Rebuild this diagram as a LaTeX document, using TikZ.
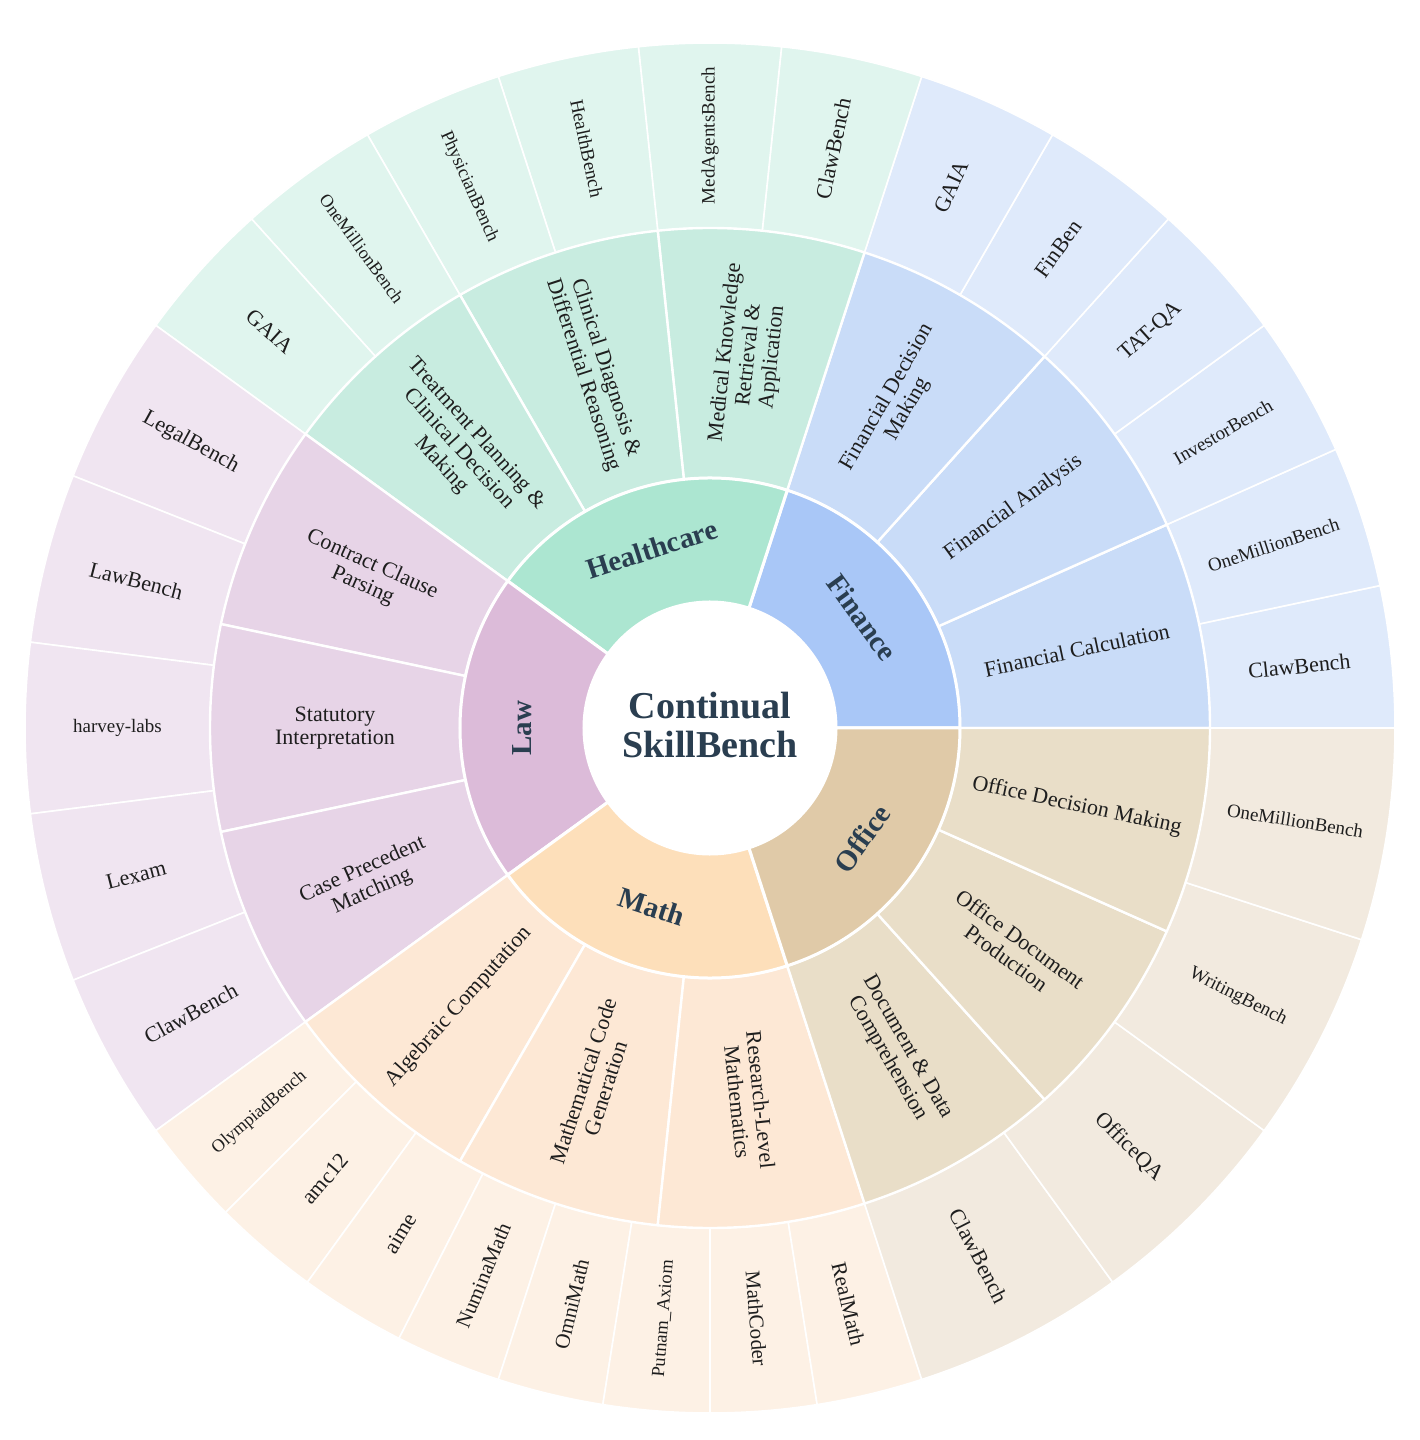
\documentclass[tikz,border=0pt]{standalone}
\usepackage{fontspec}
\setmainfont{Liberation Serif}
\definecolor{slate}{HTML}{2A3E50}
\definecolor{txt}{HTML}{1E1E1E}
% ring 1
\definecolor{fA}{HTML}{A9C7F7}
\definecolor{hA}{HTML}{ACE6D1}
\definecolor{lA}{HTML}{DCBBD9}
\definecolor{mA}{HTML}{FDDFBA}
\definecolor{oA}{HTML}{E0CAA8}
% ring 2
\definecolor{fB}{HTML}{C9DCF8}
\definecolor{hB}{HTML}{C8ECE0}
\definecolor{lB}{HTML}{E7D4E7}
\definecolor{mB}{HTML}{FDE8D5}
\definecolor{oB}{HTML}{E9DEC8}
% ring 3
\definecolor{fC}{HTML}{DFEAFB}
\definecolor{hC}{HTML}{E0F5EE}
\definecolor{lC}{HTML}{F0E5F1}
\definecolor{mC}{HTML}{FDF1E5}
\definecolor{oC}{HTML}{F2EADF}
\newcommand{\mysector}[6]{%
  \filldraw[fill=#1,draw=white,line width=#6pt,line join=round]
    (#2:#4pt) arc[start angle=#2,end angle=#3,radius=#4pt]
    -- (#3:#5pt) arc[start angle=#3,end angle=#2,radius=#5pt] -- cycle;}
\tikzset{
  leaflbl/.style={font=\fontsize{#1}{#1}\selectfont, text=txt, inner sep=0pt},
  leaflbl/.default=22,
  lvltwo/.style={font=\fontsize{22}{23.5}\selectfont, text=txt, align=center, inner sep=0pt},
  lvlone/.style={font=\bfseries\fontsize{29}{30}\selectfont, text=slate, inner sep=0pt},
}
\begin{document}
\begin{tikzpicture}[x=1pt,y=1pt]
\fill[white] (-710,-712) rectangle (710,728);
\useasboundingbox (-710,-712) rectangle (710,728);

% ---------- ring 3 (leaves) ----------
\mysector{fC}{0}{12}{500}{685}{1.6}
\mysector{fC}{12}{24}{500}{685}{1.6}
\mysector{fC}{24}{36}{500}{685}{1.6}
\mysector{fC}{36}{48}{500}{685}{1.6}
\mysector{fC}{48}{60}{500}{685}{1.6}
\mysector{fC}{60}{72}{500}{685}{1.6}
\mysector{hC}{72}{84}{500}{685}{1.6}
\mysector{hC}{84}{96}{500}{685}{1.6}
\mysector{hC}{96}{108}{500}{685}{1.6}
\mysector{hC}{108}{120}{500}{685}{1.6}
\mysector{hC}{120}{132}{500}{685}{1.6}
\mysector{hC}{132}{144}{500}{685}{1.6}
\mysector{lC}{144}{158.4}{500}{685}{1.6}
\mysector{lC}{158.4}{172.8}{500}{685}{1.6}
\mysector{lC}{172.8}{187.2}{500}{685}{1.6}
\mysector{lC}{187.2}{201.6}{500}{685}{1.6}
\mysector{lC}{201.6}{216}{500}{685}{1.6}
\mysector{mC}{216}{225}{500}{685}{1.6}
\mysector{mC}{225}{234}{500}{685}{1.6}
\mysector{mC}{234}{243}{500}{685}{1.6}
\mysector{mC}{243}{252}{500}{685}{1.6}
\mysector{mC}{252}{261}{500}{685}{1.6}
\mysector{mC}{261}{270}{500}{685}{1.6}
\mysector{mC}{270}{279}{500}{685}{1.6}
\mysector{mC}{279}{288}{500}{685}{1.6}
\mysector{oC}{288}{306}{500}{685}{1.6}
\mysector{oC}{306}{324}{500}{685}{1.6}
\mysector{oC}{324}{342}{500}{685}{1.6}
\mysector{oC}{342}{360}{500}{685}{1.6}

% ---------- ring 2 ----------
\mysector{fB}{0}{24}{250}{500}{2.4}
\mysector{fB}{24}{48}{250}{500}{2.4}
\mysector{fB}{48}{72}{250}{500}{2.4}
\mysector{hB}{72}{96}{250}{500}{2.4}
\mysector{hB}{96}{120}{250}{500}{2.4}
\mysector{hB}{120}{144}{250}{500}{2.4}
\mysector{lB}{144}{168}{250}{500}{2.4}
\mysector{lB}{168}{192}{250}{500}{2.4}
\mysector{lB}{192}{216}{250}{500}{2.4}
\mysector{mB}{216}{240}{250}{500}{2.4}
\mysector{mB}{240}{264}{250}{500}{2.4}
\mysector{mB}{264}{288}{250}{500}{2.4}
\mysector{oB}{288}{312}{250}{500}{2.4}
\mysector{oB}{312}{336}{250}{500}{2.4}
\mysector{oB}{336}{360}{250}{500}{2.4}

% ---------- ring 1 ----------
\mysector{fA}{0}{72}{126}{250}{3}
\mysector{hA}{72}{144}{126}{250}{3}
\mysector{lA}{144}{216}{126}{250}{3}
\mysector{mA}{216}{288}{126}{250}{3}
\mysector{oA}{288}{360}{126}{250}{3}

% ---------- centre ----------
\node[font=\bfseries\fontsize{38}{39}\selectfont, text=slate, align=center, inner sep=0pt] (root) at (0,3) {Continual\\SkillBench};

% ---------- ring 1 labels ----------
\node[lvlone, rotate=-54] (c-fin) at (36:188pt) {Finance};
\node[lvlone, rotate=18]  (c-hea) at (108:188pt) {Healthcare};
\node[lvlone, rotate=90]  (c-law) at (180:188pt) {Law};
\node[lvlone, rotate=-18] (c-mat) at (252:188pt) {Math};
\node[lvlone, rotate=54]  (c-off) at (324:188pt) {Office};

% ---------- ring 2 labels ----------
\node[lvltwo, rotate=12]  (s-fcalc) at (12:375pt) {Financial Calculation};
\node[lvltwo, rotate=36]  (s-fana)  at (36:375pt) {Financial Analysis};
\node[lvltwo, rotate=60]  (s-fdec)  at (60:375pt) {Financial Decision\\Making};
\node[lvltwo, rotate=84]  (s-hmed)  at (84:375pt) {Medical Knowledge\\Retrieval \&\\Application};
\node[lvltwo, rotate=-72] (s-hcli)  at (108:375pt) {Clinical Diagnosis \&\\Differential Reasoning};
\node[lvltwo, rotate=-48] (s-htre)  at (132:375pt) {Treatment Planning \&\\Clinical Decision\\Making};
\node[lvltwo, rotate=-24] (s-lcon)  at (156:375pt) {Contract Clause\\Parsing};
\node[lvltwo, rotate=0]   (s-lsta)  at (180:375pt) {Statutory\\Interpretation};
\node[lvltwo, rotate=24]  (s-lcas)  at (204:375pt) {Case Precedent\\Matching};
\node[lvltwo, rotate=48]  (s-malg)  at (228:375pt) {Algebraic Computation};
\node[lvltwo, rotate=72]  (s-mcod)  at (252:375pt) {Mathematical Code\\Generation};
\node[lvltwo, rotate=-84] (s-mres)  at (276:375pt) {Research-Level\\Mathematics};
\node[lvltwo, rotate=-60] (s-odoc)  at (300:375pt) {Document \& Data\\Comprehension};
\node[lvltwo, rotate=-36] (s-opro)  at (324:375pt) {Office Document\\Production};
\node[lvltwo, rotate=-12] (s-odec)  at (348:375pt) {Office Decision Making};

% ---------- ring 3 labels ----------
\node[leaflbl=22, rotate=6]   (f3a) at (6:592.5pt) {ClawBench};
\node[leaflbl=19, rotate=18]  (f3b) at (18:592.5pt) {OneMillionBench};
\node[leaflbl=19, rotate=30]  (f3c) at (30:592.5pt) {InvestorBench};
\node[leaflbl=22, rotate=42]  (f3d) at (42:592.5pt) {TAT-QA};
\node[leaflbl=22, rotate=54]  (f3e) at (54:592.5pt) {FinBen};
\node[leaflbl=22, rotate=66]  (f3f) at (66:592.5pt) {GAIA};
\node[leaflbl=22, rotate=78]  (h3a) at (78:592.5pt) {ClawBench};
\node[leaflbl=19, rotate=90]  (h3b) at (90:592.5pt) {MedAgentsBench};
\node[leaflbl=19, rotate=-78] (h3c) at (102:592.5pt) {HealthBench};
\node[leaflbl=18.5, rotate=-66] (h3d) at (114:592.5pt) {PhysicianBench};
\node[leaflbl=18, rotate=-54] (h3e) at (126:592.5pt) {OneMillionBench};
\node[leaflbl=22, rotate=-42] (h3f) at (138:592.5pt) {GAIA};
\node[leaflbl=22, rotate=-28.8] (l3a) at (151.2:592.5pt) {LegalBench};
\node[leaflbl=22, rotate=-14.4] (l3b) at (165.6:592.5pt) {LawBench};
\node[leaflbl=19, rotate=0]     (l3c) at (180:592.5pt) {harvey-labs};
\node[leaflbl=22, rotate=14.4]  (l3d) at (194.4:592.5pt) {Lexam};
\node[leaflbl=22, rotate=28.8]  (l3e) at (208.8:592.5pt) {ClawBench};
\node[leaflbl=18, rotate=40.5]  (m3a) at (220.5:592.5pt) {OlympiadBench};
\node[leaflbl=22, rotate=49.5]  (m3b) at (229.5:592.5pt) {amc12};
\node[leaflbl=22, rotate=58.5]  (m3c) at (238.5:592.5pt) {aime};
\node[leaflbl=21, rotate=67.5]  (m3d) at (247.5:592.5pt) {NuminaMath};
\node[leaflbl=21, rotate=76.5]  (m3e) at (256.5:592.5pt) {OmniMath};
\node[leaflbl=18.5, rotate=85.5] (m3f) at (265.5:592.5pt) {Putnam\_Axiom};
\node[leaflbl=21, rotate=-85.5] (m3g) at (274.5:592.5pt) {MathCoder};
\node[leaflbl=21.5, rotate=-76.5] (m3h) at (283.5:592.5pt) {RealMath};
\node[leaflbl=22, rotate=-63]   (o3a) at (297:592.5pt) {ClawBench};
\node[leaflbl=22, rotate=-45]   (o3b) at (315:592.5pt) {OfficeQA};
\node[leaflbl=19, rotate=-27]   (o3c) at (333:592.5pt) {WritingBench};
\node[leaflbl=19, rotate=-9]    (o3d) at (351:592.5pt) {OneMillionBench};
\end{tikzpicture}
\end{document}
